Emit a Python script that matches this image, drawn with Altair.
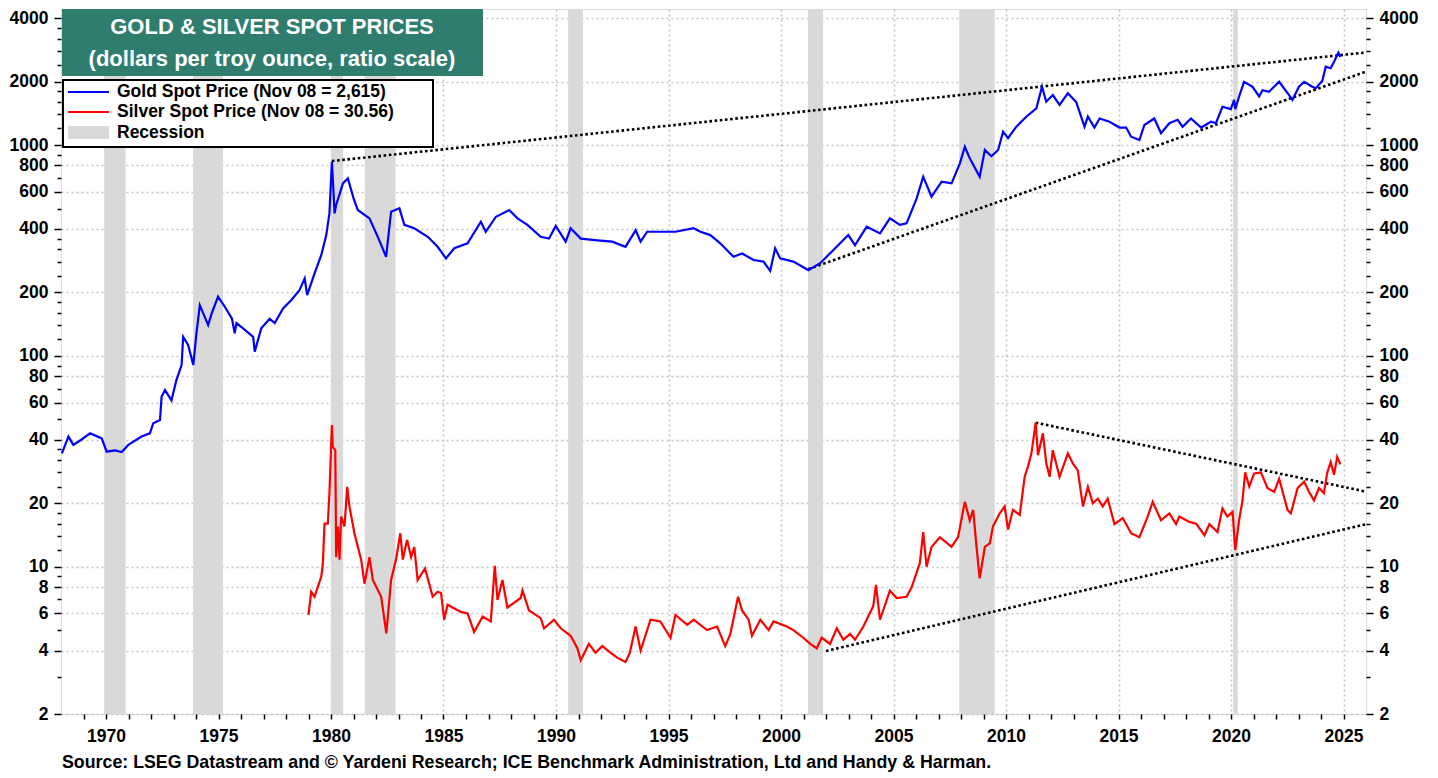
import json
import altair as alt
import pandas as pd

# ---------------- data ----------------
GOLD_YEARS = [1968.04, 1968.33, 1968.55, 1968.9, 1969.29, 1969.81, 1970.03, 1970.4, 1970.7, 1970.99,
              1971.58, 1971.95, 1972.1, 1972.4, 1972.47, 1972.62, 1972.91, 1973.13, 1973.36, 1973.43,
              1973.65, 1973.88, 1974.02, 1974.17, 1974.54, 1974.69, 1974.98, 1975.28, 1975.6, 1975.72,
              1975.8, 1976.09, 1976.54, 1976.61, 1976.9, 1977.27, 1977.5, 1977.87, 1978.24, 1978.6,
              1978.83, 1978.94, 1979.27, 1979.57, 1979.79, 1979.93, 1980.04, 1980.16, 1980.23, 1980.53,
              1980.75, 1981.0, 1981.19, 1981.71, 1982.08, 1982.45, 1982.67, 1983.04, 1983.26, 1983.7,
              1984.3, 1984.74, 1985.11, 1985.48, 1986.07, 1986.66, 1986.88, 1987.33, 1987.92, 1988.29,
              1988.73, 1989.32, 1989.69, 1989.99, 1990.43, 1990.65, 1991.1, 1991.84, 1992.5, 1993.09,
              1993.54, 1993.76, 1994.05, 1994.72, 1995.31, 1996.12, 1996.42, 1996.86, 1997.3, 1997.89,
              1998.27, 1998.78, 1999.22, 1999.52, 1999.74, 1999.96, 2000.55, 2001.22, 2001.74, 2002.33,
              2002.99, 2003.29, 2003.81, 2004.4, 2004.84, 2005.28, 2005.58, 2006.03, 2006.32, 2006.69,
              2007.14, 2007.58, 2007.95, 2008.17, 2008.39, 2008.83, 2009.06, 2009.35, 2009.65, 2009.87,
              2010.09, 2010.46, 2010.9, 2011.35, 2011.6, 2011.79, 2012.08, 2012.38, 2012.75, 2013.12,
              2013.49, 2013.64, 2013.93, 2014.16, 2014.6, 2015.04, 2015.34, 2015.56, 2015.93, 2016.15,
              2016.59, 2016.89, 2017.26, 2017.63, 2017.85, 2018.22, 2018.67, 2019.11, 2019.33, 2019.62,
              2019.99, 2020.14, 2020.19, 2020.36, 2020.58, 2020.95, 2021.25, 2021.4, 2021.69, 2022.14,
              2022.58, 2022.73, 2023.02, 2023.25, 2023.61, 2023.77, 2024.06, 2024.21, 2024.43, 2024.58,
              2024.77, 2024.86]
GOLD_PRICES = [34.5, 41.4, 37.8, 40, 42.9, 40.6, 35.1, 35.6, 35, 37.8,
               41.4, 42.9, 47.9, 49.6, 64, 68.9, 61.5, 76.8, 90.5, 123,
               112.6, 90.5, 128, 174, 140, 158, 191, 171, 150, 128,
               143, 135, 123, 104.6, 135, 150, 143, 168, 184, 205,
               233, 194, 246, 301, 374, 474, 834, 474, 520, 658,
               695, 560, 492, 449, 367, 295, 483, 501, 418, 403,
               367, 329, 290, 324, 342, 433, 388, 457, 492, 449,
               418, 367, 360, 413, 348, 403, 360, 353, 348, 329,
               395, 348, 388, 388, 388, 403, 388, 374, 342, 295,
               306, 285, 280, 253, 324, 290, 280, 255, 275, 318,
               374, 335, 410, 381, 449, 418, 425, 559, 708, 569,
               670, 658, 819, 982, 865, 708, 948, 885, 948, 1157,
               1077, 1222, 1363, 1493, 1892, 1606, 1727, 1550, 1760, 1600,
               1222, 1363, 1211, 1337, 1290, 1211, 1211, 1096, 1057, 1245,
               1337, 1137, 1269, 1318, 1222, 1337, 1211, 1290, 1269, 1520,
               1480, 1640, 1480, 1700, 1996, 1892, 1700, 1820, 1790, 1996,
               1727, 1640, 1892, 1996, 1892, 1860, 2020, 2354, 2315, 2483,
               2742, 2615]

SILVER_YEARS = [1979.0, 1979.12, 1979.27, 1979.57, 1979.64, 1979.71, 1979.86, 1979.93, 1980.04, 1980.08,
                1980.19, 1980.23, 1980.31, 1980.38, 1980.45, 1980.6, 1980.72, 1980.82, 1981.04, 1981.34,
                1981.49, 1981.71, 1981.86, 1982.23, 1982.46, 1982.67, 1982.89, 1983.08, 1983.19, 1983.38,
                1983.56, 1983.7, 1983.85, 1984.18, 1984.52, 1984.74, 1984.89, 1985.03, 1985.18, 1985.77,
                1986.07, 1986.36, 1986.74, 1987.1, 1987.28, 1987.4, 1987.62, 1987.84, 1988.43, 1988.51,
                1988.8, 1989.32, 1989.47, 1989.91, 1990.21, 1990.65, 1990.95, 1991.1, 1991.46, 1991.76,
                1992.06, 1992.43, 1992.72, 1993.09, 1993.28, 1993.54, 1993.76, 1994.2, 1994.64, 1995.09,
                1995.31, 1995.83, 1996.12, 1996.71, 1997.16, 1997.52, 1997.75, 1998.09, 1998.27, 1998.56,
                1998.71, 1999.08, 1999.45, 1999.67, 2000.26, 2000.55, 2000.99, 2001.3, 2001.59, 2001.81,
                2002.18, 2002.48, 2002.77, 2003.07, 2003.29, 2003.66, 2004.1, 2004.22, 2004.4, 2004.84,
                2005.14, 2005.58, 2005.81, 2006.17, 2006.32, 2006.47, 2006.69, 2007.06, 2007.58, 2007.87,
                2008.17, 2008.39, 2008.54, 2008.69, 2008.83, 2009.06, 2009.28, 2009.42, 2009.72, 2009.94,
                2010.09, 2010.31, 2010.61, 2010.83, 2010.98, 2011.13, 2011.32, 2011.42, 2011.64, 2011.79,
                2011.94, 2012.08, 2012.38, 2012.75, 2012.97, 2013.19, 2013.42, 2013.64, 2013.86, 2014.08,
                2014.3, 2014.52, 2014.82, 2015.19, 2015.56, 2015.93, 2016.3, 2016.52, 2016.89, 2017.26,
                2017.56, 2017.7, 2018.15, 2018.45, 2018.82, 2019.04, 2019.4, 2019.62, 2019.84, 2020.07,
                2020.19, 2020.36, 2020.51, 2020.63, 2020.81, 2021.03, 2021.33, 2021.62, 2021.92, 2022.14,
                2022.51, 2022.66, 2022.96, 2023.25, 2023.47, 2023.69, 2023.91, 2024.13, 2024.28, 2024.43,
                2024.58, 2024.72, 2024.86]
SILVER_PRICES = [5.9, 7.6, 7.2, 9.0, 10.4, 16.0, 16.0, 22.3, 47, 37,
                 35.7, 11.1, 15.5, 10.8, 17.3, 15.5, 23.9, 19.3, 14.4, 10.8,
                 8.3, 11.1, 8.65, 7.2, 4.83, 8.65, 10.8, 14.4, 10.8, 13.4,
                 11.1, 12.4, 8.65, 9.8, 7.2, 7.6, 7.5, 5.6, 6.6, 6.1,
                 6.0, 4.9, 5.8, 5.5, 10.1, 6.95, 8.65, 6.4, 7.1, 7.7,
                 6.2, 5.7, 5.1, 5.6, 5.1, 4.7, 4.1, 3.6, 4.3, 3.9,
                 4.2, 3.9, 3.7, 3.53, 3.9, 5.2, 4.0, 5.6, 5.5, 4.6,
                 5.9, 5.3, 5.6, 5.0, 5.2, 4.2, 4.8, 7.2, 6.2, 5.6,
                 4.7, 5.6, 5.0, 5.5, 5.2, 5.0, 4.6, 4.3, 4.1, 4.6,
                 4.3, 5.1, 4.5, 4.8, 4.5, 5.2, 6.5, 8.2, 5.6, 7.7,
                 7.1, 7.2, 8.0, 10.4, 14.6, 10.0, 12.4, 13.8, 12.4, 13.8,
                 20.3, 16.6, 18.6, 12.4, 8.8, 12.4, 12.9, 15.5, 17.9, 19.3,
                 15.0, 18.6, 17.6, 26.7, 29.9, 34.5, 48.2, 33.8, 42.9, 30.9,
                 26.7, 35.7, 26.7, 34.5, 30.9, 28.6, 19.3, 23.9, 20.0, 21.0,
                 19.3, 21.0, 15.9, 17.0, 14.4, 13.8, 17.3, 20.3, 16.6, 17.9,
                 15.9, 17.3, 16.3, 16.0, 14.1, 15.9, 14.6, 18.9, 17.3, 18.2,
                 12.0, 16.6, 20.6, 28.0, 24.0, 27.7, 28.0, 23.6, 22.6, 26.1,
                 18.6, 17.9, 23.6, 25.3, 22.6, 20.6, 23.6, 22.3, 28.0, 31.3,
                 27.3, 33.2, 30.56]

REC_START = [1969.92, 1973.87, 1980.0, 1981.5, 1990.54, 2001.2, 2007.92, 2020.1]
REC_END = [1970.87, 1975.2, 1980.54, 1982.87, 1991.2, 2001.87, 2009.5, 2020.3]

TREND_X0 = [1980.04, 2001.22, 2011.32, 2002.0]
TREND_Y0 = [840, 258, 48.2, 3.98]
TREND_X1 = [2026.0, 2026.0, 2026.0, 2026.0]
TREND_Y1 = [2750, 2230, 22.7, 15.9]

Y_MAJOR = [2, 4, 6, 8, 10, 20, 40, 60, 80, 100, 200, 400, 600, 800, 1000, 2000, 4000]
Y_MINOR = [3, 5, 7, 9, 12, 14, 16, 18, 24, 28, 32, 36, 50, 70, 90, 120, 140, 160, 180,
           240, 280, 320, 360, 500, 700, 900, 1200, 1400, 1600, 1800, 2400, 2800, 3200, 3600]
X_TICKS = list(range(1969, 2026))

TITLE_LINES = ["GOLD & SILVER SPOT PRICES", "(dollars per troy ounce, ratio scale)"]
LEGEND_LABELS = ["Gold Spot Price (Nov 08 = 2,615)", "Silver Spot Price (Nov 08 = 30.56)", "Recession"]
SOURCE = ("Source: LSEG Datastream and \u00a9 Yardeni Research; ICE Benchmark Administration, "
          "Ltd and Handy & Harman.")

# ---------------- styling ----------------
FONT = "Liberation Sans"
W, H = 1305, 705
GOLD_C, SILVER_C, REC_C, BOX_C = "#0000ff", "#ff0000", "#d9d9d9", "#2e7d6e"

gold_df = pd.DataFrame({"year": GOLD_YEARS, "price": GOLD_PRICES})
silver_df = pd.DataFrame({"year": SILVER_YEARS, "price": SILVER_PRICES})
rec_df = pd.DataFrame({"start": REC_START, "end": REC_END})
trend_df = pd.DataFrame({"x0": TREND_X0, "y0": TREND_Y0, "x1": TREND_X1, "y1": TREND_Y1})
one = pd.DataFrame({"k": [0]})

xscale = alt.Scale(domain=[1968.0, 2026.0], nice=False, zero=False)
yscale = alt.Scale(type="log", domain=[2, 4420], nice=False)

major_test = "indexof(%s, datum.value) >= 0" % json.dumps(Y_MAJOR)
y_values = sorted(Y_MAJOR + Y_MINOR)


def y_axis(orient, grid):
    return alt.Axis(
        orient=orient, values=y_values, title=None, domain=False,
        labelExpr=f"{major_test} ? format(datum.value, 'd') : ''",
        labelFont=FONT, labelFontSize=17.5, labelFontWeight="bold", labelColor="black",
        labelOverlap=False, labelFlush=False, labelPadding=6,
        tickColor="black", tickWidth=1.5,
        tickSize={"condition": {"test": major_test, "value": 7}, "value": 4},
        grid=grid, gridColor="#c4c4c4", gridDash=[2, 3], gridWidth=1.6,
        gridOpacity={"condition": {"test": major_test, "value": 1}, "value": 0},
    )


x_axis = alt.Axis(
    values=X_TICKS, title=None, domain=False,
    labelExpr="datum.value % 5 == 0 ? format(datum.value, 'd') : ''",
    labelFont=FONT, labelFontSize=17.5, labelFontWeight="bold", labelColor="black",
    labelOverlap=False, labelFlush=False, labelPadding=8,
    tickColor="black", tickWidth=1.5, tickSize=5,
    grid=True, gridColor="#c4c4c4", gridDash=[2, 3], gridWidth=1.6,
    gridOpacity={"condition": {"test": "datum.value % 5 == 0", "value": 1}, "value": 0},
)

rec = alt.Chart(rec_df).mark_rect(color=REC_C).encode(
    x=alt.X("start:Q", scale=xscale, axis=x_axis), x2="end:Q",
    y=alt.value(0), y2=alt.value(H))

trend = alt.Chart(trend_df).mark_rule(color="black", strokeWidth=2.6, strokeDash=[2.6, 2.6]).encode(
    x=alt.X("x0:Q", scale=xscale, axis=x_axis), x2="x1:Q",
    y=alt.Y("y0:Q", scale=yscale, axis=None), y2="y1:Q")

gold = alt.Chart(gold_df).mark_line(color=GOLD_C, strokeWidth=2.2).encode(
    x=alt.X("year:Q", scale=xscale, axis=x_axis),
    y=alt.Y("price:Q", scale=yscale, axis=y_axis("left", True)))

silver = alt.Chart(silver_df).mark_line(color=SILVER_C, strokeWidth=2.2).encode(
    x=alt.X("year:Q", scale=xscale, axis=x_axis),
    y=alt.Y("price:Q", scale=yscale, axis=y_axis("right", False)))

# title box
title_box = alt.Chart(one).mark_rect(color=BOX_C).encode(
    x=alt.value(1), x2=alt.value(422), y=alt.value(0), y2=alt.value(67))
title_layers = [
    alt.Chart(one).mark_text(text=t, font=FONT, fontSize=22, fontWeight="bold", color="white",
                             align="center", baseline="middle").encode(x=alt.value(211), y=alt.value(yy))
    for t, yy in zip(TITLE_LINES, [18, 50])
]

# legend
leg_box = alt.Chart(one).mark_rect(fill="white", stroke="black", strokeWidth=2).encode(
    x=alt.value(2), x2=alt.value(372), y=alt.value(71), y2=alt.value(138))
leg_lines = [
    alt.Chart(one).mark_rule(color=c, strokeWidth=2).encode(
        x=alt.value(7), x2=alt.value(48), y=alt.value(yy))
    for c, yy in zip([GOLD_C, SILVER_C], [83, 103])
]
leg_swatch = alt.Chart(one).mark_rect(color=REC_C).encode(
    x=alt.value(7), x2=alt.value(48), y=alt.value(117), y2=alt.value(130))
leg_text = [
    alt.Chart(one).mark_text(text=t, font=FONT, fontSize=17.5, fontWeight="bold", color="black",
                             align="left", baseline="middle").encode(x=alt.value(56), y=alt.value(yy))
    for t, yy in zip(LEGEND_LABELS, [83, 103, 124])
]

source = alt.Chart(one).mark_text(text=SOURCE, font=FONT, fontSize=17.8, fontWeight="bold", color="black",
                                  align="left", baseline="middle").encode(x=alt.value(1), y=alt.value(754))

chart = alt.layer(
    rec, trend, gold, silver, title_box, *title_layers, leg_box, *leg_lines, leg_swatch, *leg_text, source
).resolve_axis(y="independent").properties(
    width=W, height=H,
    autosize=alt.AutoSizeParams(type="none"),
    padding={"left": 53, "top": 1, "right": 56, "bottom": 62},
).configure_view(stroke="black", strokeWidth=2.6).configure(background="white")

chart.save("out.html", embed_options={"renderer": "svg", "actions": False})
